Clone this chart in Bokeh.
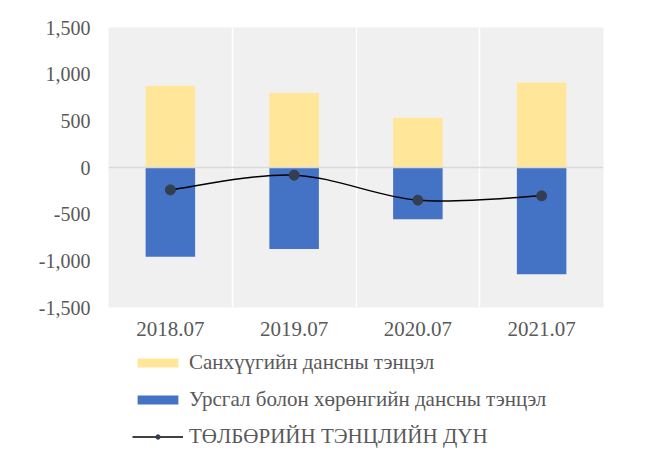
from bokeh.plotting import figure
from bokeh.layouts import column
from bokeh.models import (ColumnDataSource, FixedTicker, Span, Legend, LegendItem,
                          NumeralTickFormatter, Range1d)
from bokeh.embed import file_html
from bokeh.resources import INLINE

categories = ["2018.07", "2019.07", "2020.07", "2021.07"]
financial = [877, 799, 534, 910]
capital_current = [-956, -873, -554, -1145]
overall = [-240, -82, -350, -304]
y_ticks = [-1500, -1000, -500, 0, 500, 1000, 1500]
names = ["Санхүүгийн дансны тэнцэл",
         "Урсгал болон хөрөнгийн дансны тэнцэл",
         "ТӨЛБӨРИЙН ТЭНЦЛИЙН ДҮН"]

FONT = "Liberation Serif"
TXT = "#595959"
YELLOW = "#FFE699"
BLUE = "#4472C4"
DOT = "#333F50"

xs = [i + 0.5 for i in range(len(categories))]
zeros = [0] * len(categories)

src = ColumnDataSource(dict(x=xs, fin=financial, cap=capital_current, tot=overall, z=zeros))

# smoothed-line control points (Excel-like smoothing)
pts = list(zip(xs, overall))
bz = dict(x0=[], y0=[], x1=[], y1=[], cx0=[], cy0=[], cx1=[], cy1=[])
for i in range(len(pts) - 1):
    p0 = pts[i - 1] if i > 0 else pts[i]
    p1 = pts[i]
    p2_ = pts[i + 1]
    p3 = pts[i + 2] if i + 2 < len(pts) else pts[i + 1]
    bz["x0"].append(p1[0]); bz["y0"].append(p1[1])
    bz["x1"].append(p2_[0]); bz["y1"].append(p2_[1])
    bz["cx0"].append(p1[0] + (p2_[0] - p0[0]) / 6)
    bz["cy0"].append(p1[1] + (p2_[1] - p0[1]) / 6)
    bz["cx1"].append(p2_[0] - (p3[0] - p1[0]) / 6)
    bz["cy1"].append(p2_[1] - (p3[1] - p1[1]) / 6)
bsrc = ColumnDataSource(bz)

# ---------------- main chart ----------------
p = figure(width=656, height=345, output_backend="svg", toolbar_location=None,
           x_range=Range1d(0, len(categories)), y_range=Range1d(-1500, 1500),
           min_border_left=108, min_border_right=53, min_border_top=27,
           min_border_bottom=38)

p.background_fill_color = "#F0F0F0"
p.border_fill_color = "white"
p.outline_line_color = None

p.ygrid.grid_line_color = None
p.xgrid.ticker = FixedTicker(ticks=list(range(1, len(categories))))
p.xgrid.grid_line_color = "white"
p.xgrid.grid_line_width = 1.5

p.vbar(x="x", bottom="z", top="fin", width=0.4, source=src,
       fill_color=YELLOW, line_color=None)
p.vbar(x="x", bottom="cap", top="z", width=0.4, source=src,
       fill_color=BLUE, line_color=None)

p.add_layout(Span(location=0, dimension="width", line_color="#D9D9D9", line_width=1.5))

p.bezier(x0="x0", y0="y0", x1="x1", y1="y1", cx0="cx0", cy0="cy0",
         cx1="cx1", cy1="cy1", source=bsrc, line_color="black", line_width=1.5)
p.scatter(x="x", y="tot", source=src, size=10, fill_color=DOT, line_color=DOT)

p.xaxis.ticker = FixedTicker(ticks=xs)
p.xaxis.major_label_overrides = {x: c for x, c in zip(xs, categories)}
p.yaxis.ticker = FixedTicker(ticks=y_ticks)
p.yaxis.formatter = NumeralTickFormatter(format="0,0")
for ax in (p.xaxis[0], p.yaxis[0]):
    ax.axis_line_color = None
    ax.major_tick_line_color = None
    ax.minor_tick_line_color = None
    ax.major_label_text_font = FONT
    ax.major_label_text_color = TXT
p.yaxis.major_label_text_font_size = "20px"
p.xaxis.major_label_text_font_size = "21px"
p.yaxis.major_label_standoff = 12
p.xaxis.major_label_standoff = 8

# ---------------- legend panel (frames are aligned with the chart above) ----------------
lg = figure(width=656, height=106, output_backend="svg", toolbar_location=None,
            x_range=Range1d(0, 1), y_range=Range1d(0, 1),
            min_border_left=0, min_border_right=0, min_border_top=0, min_border_bottom=0,
            x_axis_type=None, y_axis_type=None)
lg.outline_line_color = None
lg.grid.grid_line_color = None
lg.background_fill_color = "white"
lg.border_fill_color = "white"
l_fin = lg.vbar(x="x", bottom="z", top="fin", width=0.4, source=src,
                fill_color=YELLOW, line_color=None, visible=False)
l_cap = lg.vbar(x="x", bottom="cap", top="z", width=0.4, source=src,
                fill_color=BLUE, line_color=None, visible=False)
l_line = lg.line(x="x", y="tot", source=src, line_color="black", line_width=1.5,
                 visible=False)
l_pts = lg.scatter(x="x", y="tot", source=src, size=9, fill_color=DOT, line_color=DOT,
                   visible=False)

legend = Legend(items=[
    LegendItem(label=names[0], renderers=[l_fin]),
    LegendItem(label=names[1], renderers=[l_cap]),
    LegendItem(label=names[2], renderers=[l_line, l_pts]),
], location=(24, 2), orientation="vertical")
legend.label_text_font = FONT
legend.label_text_font_size = "21px"
legend.label_text_color = TXT
legend.glyph_width = 51
legend.glyph_height = 11
legend.label_height = 22
legend.spacing = 12
legend.label_standoff = 6
legend.padding = 0
legend.margin = 0
legend.border_line_color = None
legend.background_fill_alpha = 0
lg.add_layout(legend)

layout = column(p, lg, spacing=0)
open("out.html", "w").write(file_html(layout, INLINE))
